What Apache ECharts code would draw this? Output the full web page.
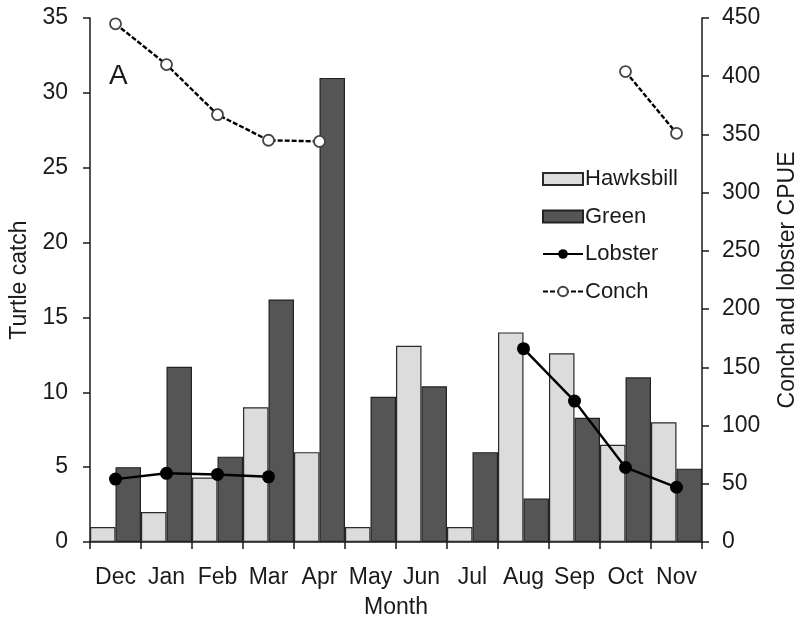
<!DOCTYPE html>
<html>
<head>
<meta charset="utf-8">
<script src="https://cdn.jsdelivr.net/npm/echarts@6/dist/echarts.min.js"></script>
<style>
  html, body { margin: 0; padding: 0; background: #fff; }
  #chart { width: 800px; height: 628px; }
</style>
</head>
<body>
<div id="chart"></div>
<script>
// Monthly turtle catch (bars, left axis) and conch / lobster CPUE (lines, right axis)
const months = ['Dec', 'Jan', 'Feb', 'Mar', 'Apr', 'May', 'Jun', 'Jul', 'Aug', 'Sep', 'Oct', 'Nov'];
const hawksbill = [1, 2, 4.3, 9, 6, 1, 13.1, 1, 14, 12.6, 6.5, 8];
const green = [5, 11.7, 5.7, 16.2, 31, 9.7, 10.4, 6, 2.9, 8.3, 11, 4.9];
const lobster = [54, 59, 58, 56, null, null, null, null, 166, 121, 64, 47];
const conch = [445, 410, 367, 345, 344, null, null, null, null, null, 404, 351];
const turtleTicks = { min: 0, max: 35, interval: 5 };
const cpueTicks = { min: 0, max: 450, interval: 50 };

const FONT = '"Liberation Sans", Arial, sans-serif';
const INK = '#1a1a1a';
const FS = 23;

const axisCommon = {
  axisLine: { show: true, lineStyle: { color: INK, width: 1.5 } },
  axisTick: { show: true, inside: false, length: 7, lineStyle: { color: INK, width: 1.5 } },
  splitLine: { show: false },
  axisLabel: { color: INK, fontFamily: FONT, fontSize: FS },
  nameTextStyle: { color: INK, fontFamily: FONT, fontSize: FS }
};

const chart = echarts.init(document.getElementById('chart'), null, { renderer: 'canvas' });
chart.setOption({
  animation: false,
  backgroundColor: '#fff',
  textStyle: { fontFamily: FONT },
  title: {
    text: 'A',
    left: 104, top: 57,
    textStyle: { fontFamily: FONT, fontSize: 28, fontWeight: 'normal', color: INK }
  },
  legend: {
    orient: 'vertical',
    left: 537, top: 163,
    itemWidth: 40, itemHeight: 12,
    itemGap: 15.5,
    textStyle: { fontFamily: FONT, fontSize: 22, color: INK, padding: [0, 0, 0, -3] },
    data: [
      { name: 'Hawksbill', icon: 'rect' },
      { name: 'Green', icon: 'rect' },
      { name: 'Lobster' },
      { name: 'Conch' }
    ]
  },
  grid: { left: 90, right: 98, top: 18, bottom: 86, containLabel: false, outerBoundsMode: 'none' },
  xAxis: Object.assign({}, axisCommon, {
    type: 'category',
    data: months,
    boundaryGap: true,
    name: 'Month',
    nameLocation: 'middle',
    nameGap: 54,
    axisTick: Object.assign({}, axisCommon.axisTick, { alignWithLabel: false }),
    axisLabel: Object.assign({}, axisCommon.axisLabel, { margin: 24, interval: 0 })
  }),
  yAxis: [
    Object.assign({}, axisCommon, {
      type: 'value',
      min: turtleTicks.min, max: turtleTicks.max, interval: turtleTicks.interval,
      name: 'Turtle catch',
      nameLocation: 'middle',
      nameGap: 57,
      axisLabel: Object.assign({}, axisCommon.axisLabel, { margin: 22 })
    }),
    Object.assign({}, axisCommon, {
      type: 'value',
      position: 'right',
      min: cpueTicks.min, max: cpueTicks.max, interval: cpueTicks.interval,
      name: 'Conch and lobster CPUE',
      nameLocation: 'middle',
      nameGap: 74,
      axisLabel: Object.assign({}, axisCommon.axisLabel, { margin: 20 })
    })
  ],
  series: [
    {
      name: 'Hawksbill', type: 'bar', yAxisIndex: 0,
      data: hawksbill,
      barGap: '0%', barCategoryGap: '0%',
      itemStyle: { color: '#dcdcdc', borderColor: '#2a2a2a', borderWidth: 1.2 },
      z: 2
    },
    {
      name: 'Green', type: 'bar', yAxisIndex: 0,
      data: green,
      barGap: '0%', barCategoryGap: '0%',
      itemStyle: { color: '#555555', borderColor: '#222222', borderWidth: 1.2 },
      z: 2
    },
    {
      name: 'Lobster', type: 'line', yAxisIndex: 1,
      data: lobster,
      connectNulls: false,
      symbol: 'circle', symbolSize: 13,
      lineStyle: { color: '#000', width: 2.4 },
      itemStyle: { color: '#000', borderColor: '#000', borderWidth: 0 },
      z: 5
    },
    {
      name: 'Conch', type: 'line', yAxisIndex: 1,
      data: conch,
      connectNulls: false,
      symbol: 'circle', symbolSize: 11,
      showAllSymbol: true,
      lineStyle: { color: '#000', width: 2.4, type: [5, 2] },
      itemStyle: { color: '#fff', borderColor: '#444', borderWidth: 1.8 },
      z: 5
    }
  ]
});
</script>
</body>
</html>
